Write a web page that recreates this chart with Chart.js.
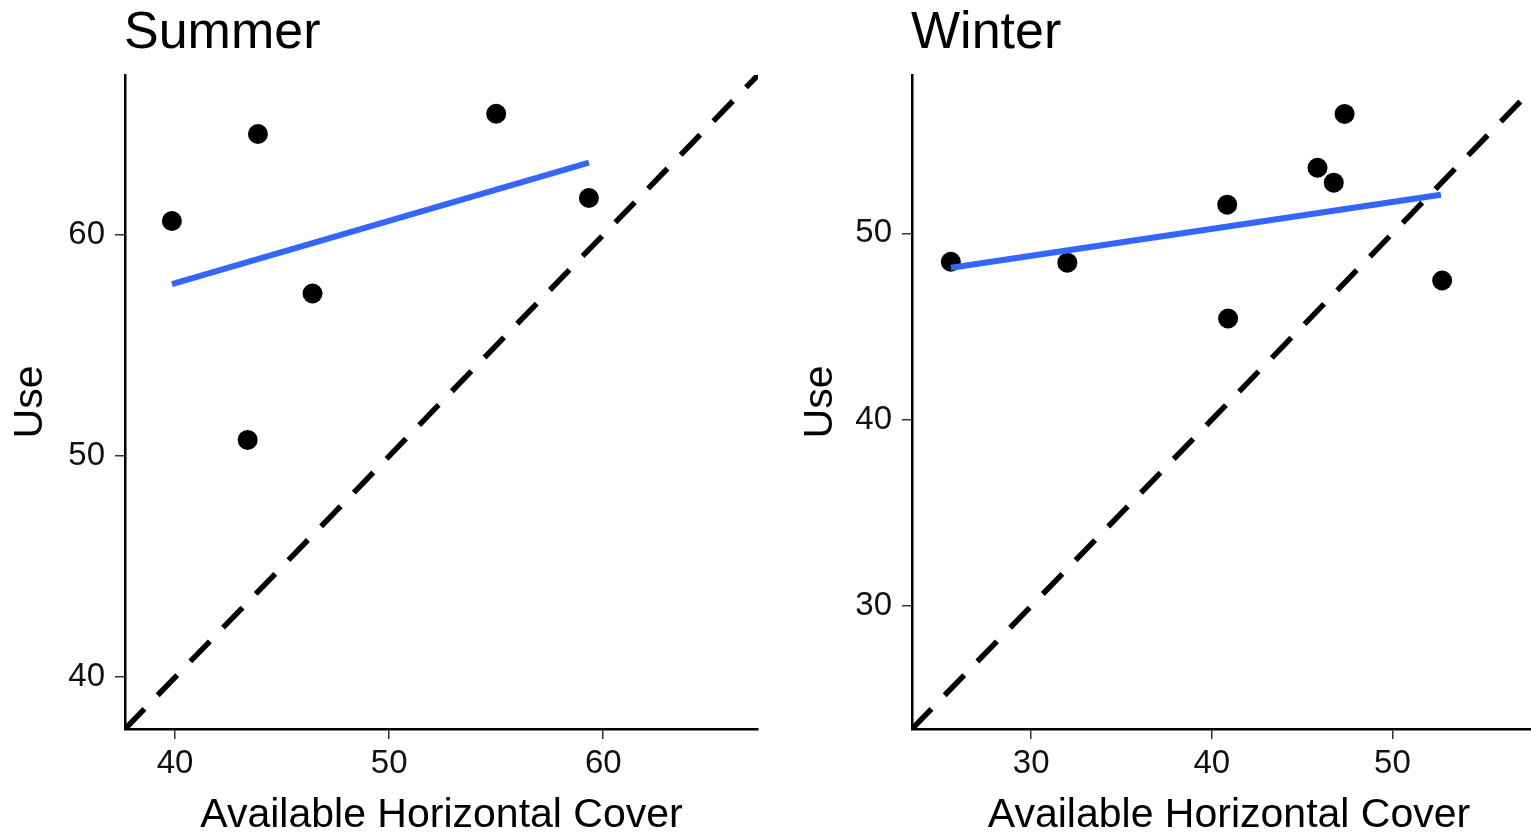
<!DOCTYPE html>
<html>
<head>
<meta charset="utf-8">
<script src="https://cdn.jsdelivr.net/npm/chart.js@4.4.1/dist/chart.umd.min.js"></script>
<style>
    html, body { margin: 0; padding: 0; background: #fff; overflow: hidden; }
    body { width: 1531px; height: 837px; position: relative; }
    .painel { position: absolute; top: 0; }
</style>
</head>
<body>
<canvas id="summerChart" class="painel" style="left:0px" width="790" height="837"></canvas>
<canvas id="winterChart" class="painel" style="left:790px" width="780" height="837"></canvas>
<script>
// Summer
const summerX = [39.85, 43.87, 55.0, 59.33, 46.42, 43.39];
const summerY = [60.63, 64.56, 65.48, 61.67, 57.35, 50.73];
const summerFitX = [39.85, 59.33];
const summerFitY = [57.77, 63.27];
const summerLimits = [37.66, 67.23];
const summerTicks = [40, 50, 60];

// Winter
const winterX = [25.55, 32.0, 40.85, 40.9, 45.85, 46.75, 47.35, 52.75];
const winterY = [48.48, 48.43, 51.54, 45.43, 53.52, 52.72, 56.41, 47.47];
const winterFitX = [25.55, 52.68];
const winterFitY = [48.16, 52.07];
const winterLimits = [23.4, 58.5];
const winterTicks = [30, 40, 50];

const FONTE = '"Liberation Sans", Arial, sans-serif';

const tituloPainel = {
    id: 'tituloPainel',
    afterDraw(chart, args, opts) {
        const ctx = chart.ctx;
        ctx.save();
        ctx.font = '52px ' + FONTE;
        ctx.fillStyle = '#000';
        ctx.textBaseline = 'alphabetic';
        ctx.textAlign = 'left';
        ctx.fillText(opts.text, chart.chartArea.left - 1, 48);
        ctx.restore();
    }
};

function eixo(limites, ticks, titulo, ajuste) {
    return {
        type: 'linear',
        min: limites[0],
        max: limites[1],
        afterFit: ajuste,
        afterBuildTicks: scale => { scale.ticks = ticks.map(v => ({ value: v })); },
        border: { display: true, color: '#000', width: 2.5 },
        grid: { drawOnChartArea: false, drawTicks: true, tickLength: 10, color: '#333', lineWidth: 1.5 },
        ticks: { color: '#111', font: { family: FONTE, size: 33 }, padding: 5 },
        title: { display: true, text: titulo, color: '#000', font: { family: FONTE, size: 41, lineHeight: 1 } }
    };
}

function criarPainel(id, nome, xs, ys, fitX, fitY, limites, ticks, larguraY, direita) {
    const ctx = document.getElementById(id).getContext('2d');
    const pontos = xs.map((x, i) => ({ x: x, y: ys[i] }));
    const ajuste = fitX.map((x, i) => ({ x: x, y: fitY[i] }));
    const identidade = limites.map(v => ({ x: v, y: v }));

    const escalaX = eixo(limites, ticks, 'Available Horizontal Cover', s => { s.height = 108; });
    escalaX.title.padding = { top: 0, bottom: 1 };
    const escalaY = eixo(limites, ticks, 'Use', s => { s.width = larguraY; });
    escalaY.ticks.padding = 10;
    escalaY.title.padding = { top: 10, bottom: 0 };

    new Chart(ctx, {
        type: 'scatter',
        data: {
            datasets: [
                {
                    data: pontos,
                    backgroundColor: '#000',
                    pointRadius: 10,
                    borderWidth: 0,
                    order: 3
                },
                {
                    type: 'line',
                    data: ajuste,
                    borderColor: '#3366FF',
                    borderWidth: 6,
                    pointRadius: 0,
                    fill: false,
                    order: 2
                },
                {
                    type: 'line',
                    data: identidade,
                    borderColor: '#000',
                    borderWidth: 5.5,
                    borderDash: [28, 19],
                    pointRadius: 0,
                    fill: false,
                    order: 1
                }
            ]
        },
        options: {
            responsive: false,
            animation: false,
            layout: { padding: { top: 75, left: 0, right: direita, bottom: 0 } },
            plugins: {
                legend: { display: false },
                tooltip: { enabled: false },
                tituloPainel: { text: nome }
            },
            scales: { x: escalaX, y: escalaY }
        },
        plugins: [tituloPainel]
    });
}

document.addEventListener('DOMContentLoaded', () => {
    criarPainel('summerChart', 'Summer', summerX, summerY, summerFitX, summerFitY, summerLimits, summerTicks, 125, 32);
    criarPainel('winterChart', 'Winter', winterX, winterY, winterFitX, winterFitY, winterLimits, winterTicks, 122, 24);
});
</script>
</body>
</html>
